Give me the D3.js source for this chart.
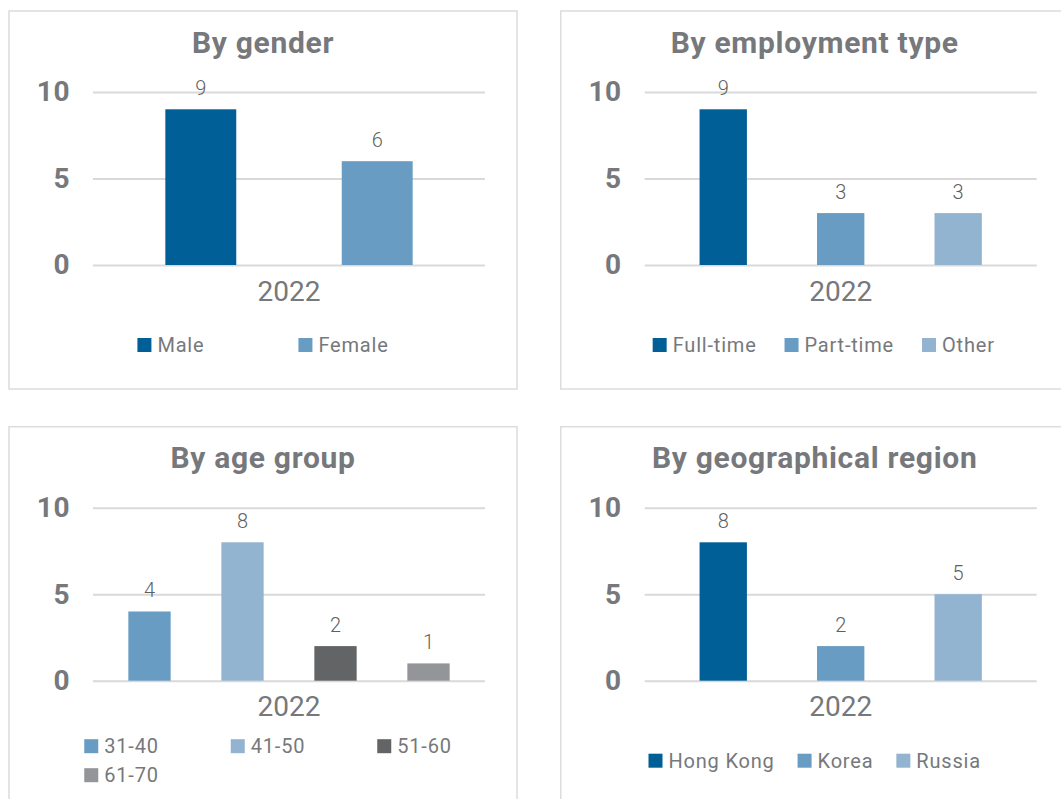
<!DOCTYPE html>
<html>
<head>
<meta charset="utf-8">
<script src="https://cdn.jsdelivr.net/npm/d3@7"></script>
<style>
  body { margin: 0; background: #fff; }
  svg { display: block; font-family: Roboto, "DejaVu Sans", sans-serif; }
</style>
</head>
<body>
<script>
// data
var year = "2022";
var yTicks = [0, 5, 10];
var yMax = 10;

var genderLabels = ["Male", "Female"];
var genderValues = [9, 6];

var employmentLabels = ["Full-time", "Part-time", "Other"];
var employmentValues = [9, 3, 3];

var ageLabels = ["31-40", "41-50", "51-60", "61-70"];
var ageValues = [4, 8, 2, 1];

var regionLabels = ["Hong Kong", "Korea", "Russia"];
var regionValues = [8, 2, 5];

var darkBlue = "#005f96", midBlue = "#689cc2", lightBlue = "#93b4d0";
var darkGray = "#636466", lightGray = "#939598";
var textGray = "#76787c";

var width = 1061, height = 799;
var boxW = 508, boxH = 378;

var panels = [
  {title: "By gender", labels: genderLabels, values: genderValues,
   colors: [darkBlue, midBlue], x: 9, y: 11, pi: 0.598, po: 0.41, gap: 94, grid: false, legDx: 0},
  {title: "By employment type", labels: employmentLabels, values: employmentValues,
   colors: [darkBlue, midBlue, lightBlue], x: 560.7, y: 11, pi: 0.597, po: 0.467, gap: 28, grid: false, legDx: 9},
  {title: "By age group", labels: ageLabels, values: ageValues,
   colors: [midBlue, lightBlue, darkGray, lightGray], x: 9, y: 426.7, pi: 0.545, po: 0.38, gap: 72, grid: true, legDx: 5},
  {title: "By geographical region", labels: regionLabels, values: regionValues,
   colors: [darkBlue, midBlue, lightBlue], x: 560.7, y: 426.7, pi: 0.597, po: 0.467, gap: 23, grid: false, legDx: 0}
];

var svg = d3.select("body")
  .append("svg")
  .attr("width", width)
  .attr("height", height);

panels.forEach(function(p)
{
  var g = svg.append("g").attr("transform", "translate(" + p.x + "," + p.y + ")");

  g.append("rect")
    .attr("width", boxW)
    .attr("height", boxH)
    .attr("fill", "#fff")
    .attr("stroke", "#dcdcdc")
    .attr("stroke-width", 1.5);

  g.append("text")
    .attr("x", boxW / 2)
    .attr("y", 41.5)
    .attr("text-anchor", "middle")
    .attr("font-size", 30)
    .attr("font-weight", 700)
    .attr("letter-spacing", 0.7)
    .attr("fill", textGray)
    .text(p.title);

  var left = 84, right = 476, top = 81, bottom = 254;

  var y = d3.scaleLinear().domain([0, yMax]).range([bottom, top]);
  var x = d3.scaleBand()
    .domain(p.labels)
    .range([left, right])
    .paddingInner(p.pi)
    .paddingOuter(p.po);

  var yAxis = d3.axisLeft(y)
    .tickValues(yTicks)
    .tickSize(-(right - left))
    .tickPadding(23);

  var ax = g.append("g")
    .attr("transform", "translate(" + left + ",0)")
    .call(yAxis);
  ax.select(".domain").remove();
  ax.selectAll("line").attr("stroke", "#d9d9d9").attr("stroke-width", 2);
  ax.selectAll("text")
    .attr("font-size", 28)
    .attr("font-weight", 700)
    .attr("letter-spacing", 0.5)
    .attr("fill", textGray)
    .attr("font-family", "Roboto, sans-serif");

  g.selectAll("rect.bar")
    .data(p.values)
    .enter()
    .append("rect")
    .attr("class", "bar")
    .attr("x", function(d, i) { return x(p.labels[i]); })
    .attr("y", function(d) { return y(d); })
    .attr("width", x.bandwidth())
    .attr("height", function(d) { return y(0) - y(d); })
    .attr("fill", function(d, i) { return p.colors[i]; });

  g.selectAll("text.val")
    .data(p.values)
    .enter()
    .append("text")
    .attr("class", "val")
    .attr("x", function(d, i) { return x(p.labels[i]) + x.bandwidth() / 2; })
    .attr("y", function(d) { return y(d) - 14.5; })
    .attr("text-anchor", "middle")
    .attr("font-size", 20)
    .attr("font-weight", 300)
    .attr("fill", "#5f5f5f")
    .text(function(d) { return d; });

  g.append("text")
    .attr("x", (left + right) / 2)
    .attr("y", 289.5)
    .attr("text-anchor", "middle")
    .attr("font-size", 28)
    .attr("fill", textGray)
    .text(year);

  // legend
  var leg = g.append("g");
  var items = leg.selectAll("g")
    .data(p.labels)
    .enter()
    .append("g");
  items.append("rect")
    .attr("width", 14)
    .attr("height", 14)
    .attr("fill", function(d, i) { return p.colors[i]; });
  items.append("text")
    .attr("x", 20)
    .attr("y", 14)
    .attr("font-size", 20)
    .attr("letter-spacing", 0.8)
    .attr("fill", textGray)
    .text(function(d) { return d; });

  var widths = [];
  items.each(function()
  {
    widths.push(20 + d3.select(this).select("text").node().getComputedTextLength());
  });

  var pos = [], rowW = 0, rows = 1;
  if (p.grid)
  {
    var step = d3.max(widths) + p.gap;
    var cols = Math.floor((400 + p.gap) / step);
    rows = Math.ceil(widths.length / cols);
    widths.forEach(function(w, i)
    {
      pos.push([(i % cols) * step, Math.floor(i / cols) * 29]);
    });
    rowW = (Math.min(cols, widths.length) - 1) * step + widths[Math.min(cols, widths.length) - 1];
  }
  else
  {
    var cx = 0;
    widths.forEach(function(w)
    {
      pos.push([cx, 0]);
      cx += w + p.gap;
    });
    rowW = cx - p.gap;
  }
  items.attr("transform", function(d, i) { return "translate(" + pos[i] + ")"; });
  var legTop = 327 - (rows - 1) * 14.5;
  leg.attr("transform", "translate(" + (boxW / 2 - rowW / 2 + p.legDx) + "," + legTop + ")");
});
</script>
</body>
</html>
